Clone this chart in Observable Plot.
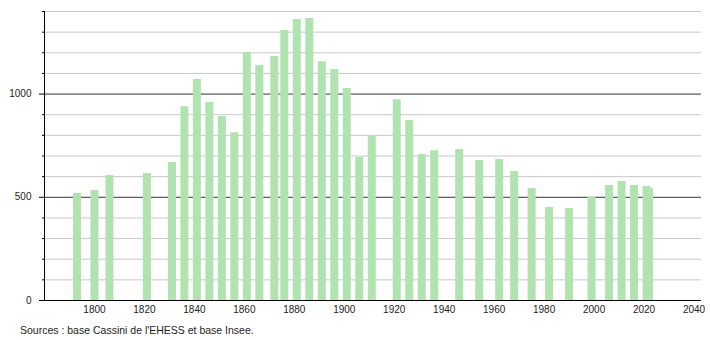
<!DOCTYPE html>
<html>
<head>
<meta charset="utf-8">
<script src="https://cdn.jsdelivr.net/npm/d3@7"></script>
<script src="https://cdn.jsdelivr.net/npm/@observablehq/plot@0.6"></script>
<style>
  html, body { margin: 0; padding: 0; background: #fff; }
  body { width: 710px; height: 340px; overflow: hidden; font-family: "Liberation Sans", Arial, sans-serif; }
  #caption { font-size: 10.5px; color: #222; padding-left: 20px; margin-top: 6px; }
  svg { display: block; }
</style>
</head>
<body>
<div id="chart"></div>
<div id="caption">Sources : base Cassini de l'EHESS et base Insee.</div>
<script>
const years = [1793, 1800, 1806, 1821, 1831, 1836, 1841, 1846, 1851, 1856, 1861, 1866, 1872, 1876, 1881, 1886, 1891, 1896, 1901, 1906, 1911, 1921, 1926, 1931, 1936, 1946, 1954, 1962, 1968, 1975, 1982, 1990, 1999, 2006, 2011, 2016, 2021, 2022];
const population = [518, 533, 605, 615, 668, 939, 1070, 959, 891, 813, 1201, 1138, 1182, 1308, 1361, 1366, 1157, 1119, 1027, 693, 794, 973, 872, 707, 726, 731, 678, 683, 625, 542, 450, 446, 499, 557, 576, 557, 552, 542];
const xTicks = [1800, 1820, 1840, 1860, 1880, 1900, 1920, 1940, 1960, 1980, 2000, 2020, 2040];
const yMajorTicks = [0, 500, 1000];
const yMinorTicks = [100, 200, 300, 400, 600, 700, 800, 900, 1100, 1200, 1300, 1400];
const yGrid = [100, 200, 300, 400, 600, 700, 800, 900, 1100, 1200, 1300, 1400];
const yDarkGrid = [500, 1000];

const data = years.map((y, i) => ({year: y, pop: population[i]}));

const chart = Plot.plot({
  width: 710,
  height: 318,
  marginLeft: 44,
  marginRight: 9,
  marginTop: 11,
  marginBottom: 18,
  style: {fontFamily: "'Liberation Sans', Arial, sans-serif", fontSize: "10px", color: "#222", background: "#fff"},
  x: {domain: [1780, 2043], label: null},
  y: {domain: [0, 1400], label: null},
  marks: [
    Plot.ruleY(yGrid, {stroke: "#c8c8c8", strokeWidth: 1, strokeOpacity: 1}),
    Plot.ruleY(yDarkGrid, {stroke: "#333", strokeWidth: 1, strokeOpacity: 1}),
    Plot.ruleX(data, {x: "year", y1: 0, y2: "pop", stroke: "#b1e3b1", strokeWidth: 8, strokeOpacity: 1}),
    Plot.axisX({ticks: xTicks, tickSize: 0, tickPadding: 5, tickFormat: d => String(d), label: null}),
    Plot.axisY({ticks: yMajorTicks, tickSize: 5, tickPadding: 8, tickFormat: d => String(d), label: null, stroke: "#000"}),
    Plot.axisY({ticks: yMinorTicks, tickSize: 2, tickFormat: null, text: null, label: null, stroke: "#000"}),
    Plot.ruleX([1780], {y1: 0, y2: 1400, stroke: "#000", strokeWidth: 1}),
    Plot.ruleY([0], {stroke: "#000", strokeWidth: 1})
  ]
});
document.getElementById("chart").appendChild(chart);
</script>
</body>
</html>
